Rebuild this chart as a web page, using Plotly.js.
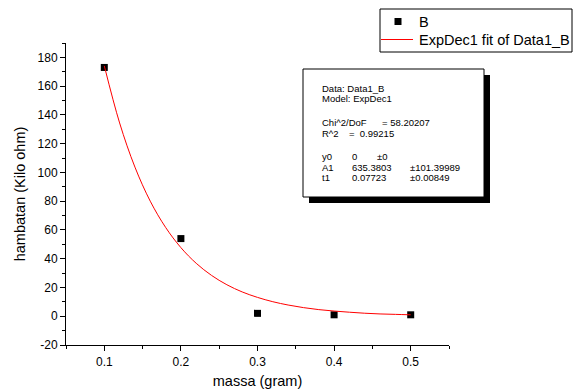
<!DOCTYPE html>
<html>
<head>
<meta charset="utf-8">
<script src="https://cdn.plot.ly/plotly-3.0.1.min.js"></script>
<style>html,body{margin:0;padding:0;background:#fff;}#chart{width:579px;height:392px;}</style>
</head>
<body>
<div id="chart"></div>
<script>
// Measured data points (massa in gram, hambatan in Kilo ohm)
var massa = [0.1, 0.2, 0.3, 0.4, 0.5];
var hambatan = [173, 54, 2, 1, 1];

var fitX = [0.10, 0.12, 0.14, 0.16, 0.18, 0.20, 0.22, 0.24, 0.26, 0.28, 0.30,
            0.32, 0.34, 0.36, 0.38, 0.40, 0.42, 0.44, 0.46, 0.48, 0.50];
var fitY = [174.1, 134.4, 103.7, 80.0, 61.8, 47.7, 36.8, 28.4, 21.9, 16.9, 13.1,
            10.1, 7.8, 6.0, 4.6, 3.6, 2.8, 2.1, 1.6, 1.3, 1.0];

// Tick labels
var xTicks = [0.1, 0.2, 0.3, 0.4, 0.5];
var xTickText = ["0.1", "0.2", "0.3", "0.4", "0.5"];
var yTicks = [-20, 0, 20, 40, 60, 80, 100, 120, 140, 160, 180];
var yTickText = ["-20", "0", "20", "40", "60", "80", "100", "120", "140", "160", "180"];

// Fit report text
var reportHead = ["Data: Data1_B", "Model: ExpDec1"];
var chiLabel = "Chi^2/DoF", chiValue = "= 58.20207";
var r2Label = "R^2", r2Value = "=  0.99215";
var paramNames = ["y0", "A1", "t1"];
var paramValues = ["0", "635.3803", "0.07723"];
var paramErrors = ["\u00b10", "\u00b1101.39989", "\u00b10.00849"];

var seriesNames = ["B", "ExpDec1 fit of Data1_B"];

var L = 66, R = 449, T = 43, B = 345;
function px(x) { return (x - L) / (R - L); }
function py(y) { return (B - y) / (B - T); }

var font = "Liberation Sans, Arial, sans-serif";

var traces = [
  {x: massa, y: hambatan, mode: "markers", type: "scatter", name: seriesNames[0],
   marker: {symbol: "square", size: 7, color: "#000"}, showlegend: false},
  {x: fitX, y: fitY, mode: "lines", type: "scatter", name: seriesNames[1],
   line: {color: "#ff0000", width: 1, shape: "spline"}, showlegend: false}
];

var ann = [];
function addText(t, x, y, size) {
  ann.push({text: t, xref: "paper", yref: "paper", x: px(x), y: py(y),
            xanchor: "left", yanchor: "middle", showarrow: false,
            font: {family: font, size: size || 9.5, color: "#000"}});
}
addText(reportHead[0], 320, 88);
addText(reportHead[1], 320, 98.5);
addText(chiLabel, 320, 122);
addText(chiValue, 380, 122);
addText(r2Label, 320, 133);
addText(r2Value, 347, 133);
var rowY = [156, 167, 178];
for (var i = 0; i < paramNames.length; i++) {
  addText(paramNames[i], 320, rowY[i]);
  addText(paramValues[i], 350, rowY[i]);
  addText(paramErrors[i], i === 0 ? 375 : 408, rowY[i]);
}
// Legend text
addText(seriesNames[0], 417, 21.5, 14.5);
addText(seriesNames[1], 417, 39.5, 14.5);

var shapes = [
  // fit report box with shadow
  {type: "rect", xref: "paper", yref: "paper", x0: px(309), x1: px(490), y0: py(203), y1: py(75),
   fillcolor: "#000", line: {width: 0}, layer: "above"},
  {type: "rect", xref: "paper", yref: "paper", x0: px(303), x1: px(484), y0: py(197), y1: py(69),
   fillcolor: "#fff", line: {color: "#000", width: 1}, layer: "above"},
  // legend box
  {type: "rect", xref: "paper", yref: "paper", x0: px(380), x1: px(572), y0: py(52), y1: py(9),
   fillcolor: "#fff", line: {color: "#000", width: 1}, layer: "above"},
  // legend marker swatch
  {type: "rect", xref: "paper", yref: "paper", x0: px(394.5), x1: px(401.5), y0: py(25), y1: py(18),
   fillcolor: "#000", line: {width: 0}, layer: "above"},
  // legend line swatch
  {type: "line", xref: "paper", yref: "paper", x0: px(381), x1: px(413), y0: py(39.5), y1: py(39.5),
   line: {color: "#ff0000", width: 1}, layer: "above"}
];

var layout = {
  width: 579, height: 392,
  margin: {l: L, r: 579 - R, t: T, b: 392 - B},
  paper_bgcolor: "#fff", plot_bgcolor: "#fff",
  font: {family: font, size: 12, color: "#000"},
  showlegend: false,
  xaxis: {range: [0.05, 0.55], tickvals: xTicks, ticktext: xTickText,
          showgrid: false, zeroline: false, showline: true, linecolor: "#000", linewidth: 1,
          ticks: "outside", ticklen: 5, tickcolor: "#000", ticklabelstandoff: 1,
          minor: {tickvals: [0.05, 0.15, 0.25, 0.35, 0.45, 0.55], ticks: "outside", ticklen: 3, tickcolor: "#000", showgrid: false},
          tickfont: {family: font, size: 12, color: "#000"},
          title: {text: "massa (gram)", font: {family: font, size: 14.5, color: "#000"}, standoff: 7}},
  yaxis: {range: [-20, 190], tickvals: yTicks, ticktext: yTickText,
          showgrid: false, zeroline: false, showline: true, linecolor: "#000", linewidth: 1,
          ticks: "outside", ticklen: 5, tickcolor: "#000",
          minor: {tickvals: [-10, 10, 30, 50, 70, 90, 110, 130, 150, 170, 190], ticks: "outside", ticklen: 3, tickcolor: "#000", showgrid: false},
          tickfont: {family: font, size: 12, color: "#000"},
          title: {text: "hambatan (Kilo ohm)", font: {family: font, size: 14.5, color: "#000"}, standoff: 8}},
  shapes: shapes,
  annotations: ann
};

Plotly.newPlot("chart", traces, layout, {displayModeBar: false, staticPlot: true});
</script>
</body>
</html>
